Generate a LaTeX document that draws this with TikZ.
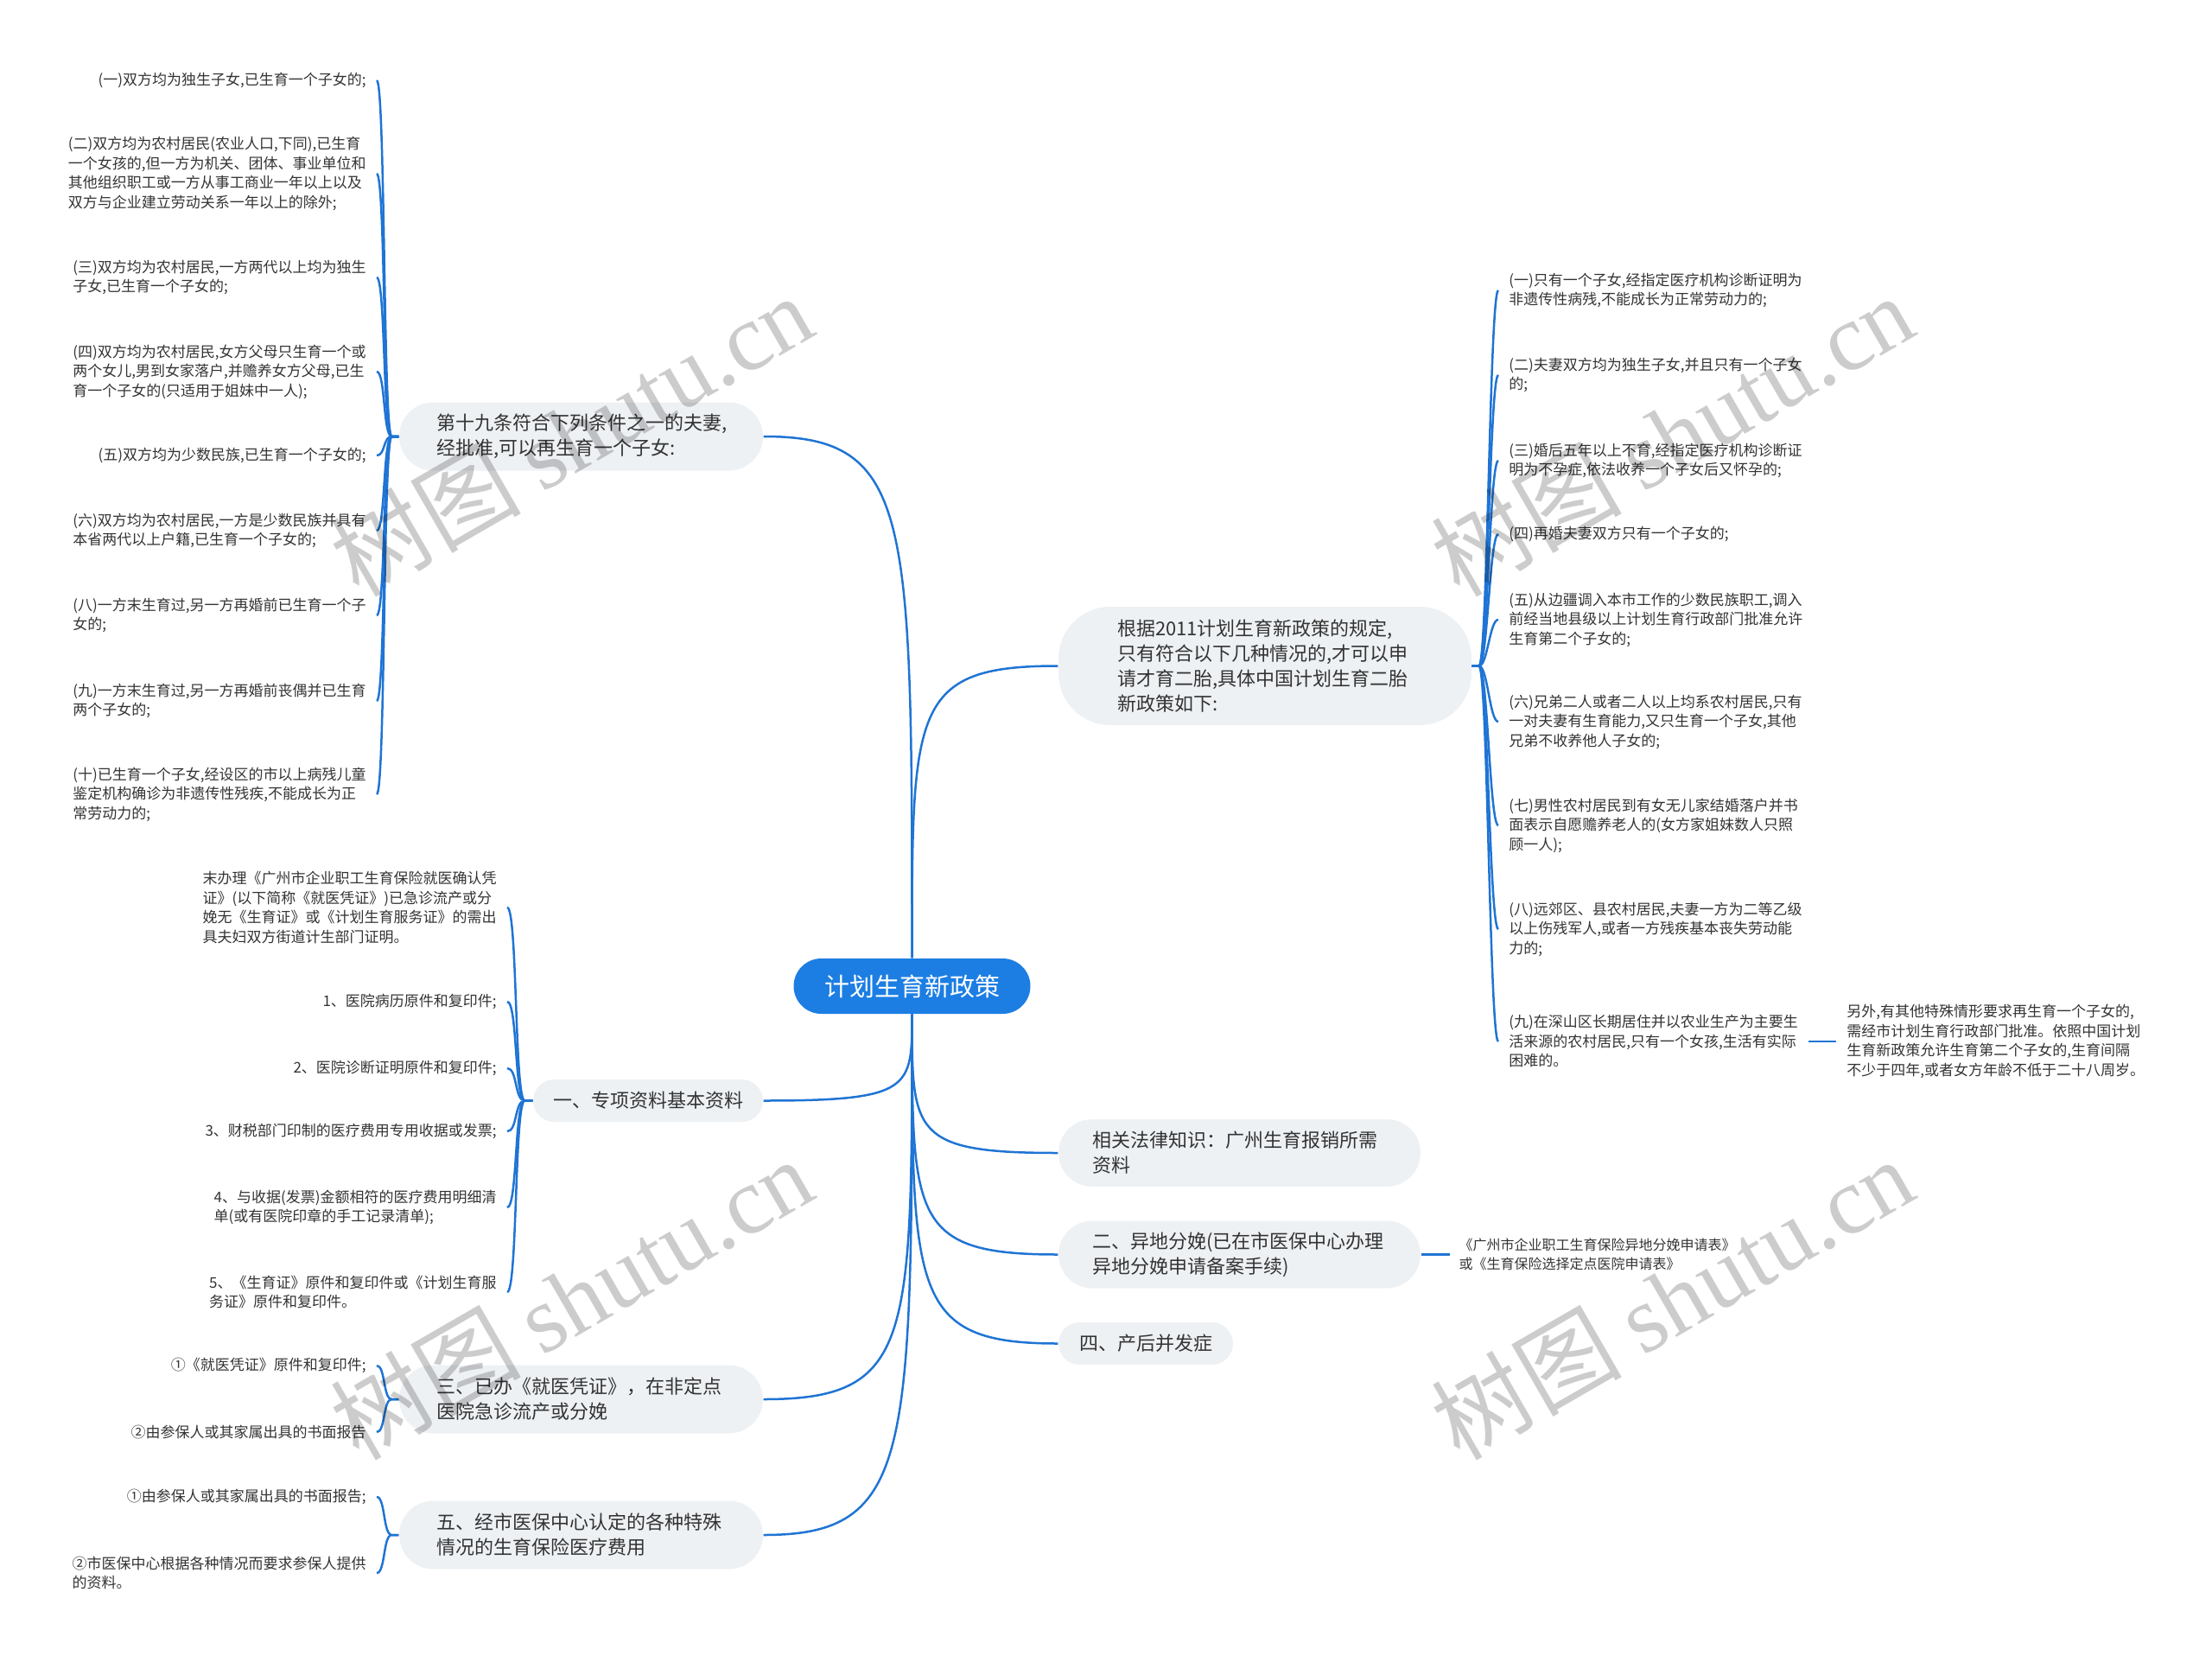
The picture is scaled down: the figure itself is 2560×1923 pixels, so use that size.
\documentclass[tikz,border=0pt]{standalone}
\usepackage{fontspec}
\setmainfont{Noto Sans CJK SC}
\newfontfamily\wmlatin{Liberation Serif}
\definecolor{linkblue}{HTML}{1F74D4}
\definecolor{rootblue}{HTML}{1C7EE3}
\definecolor{boxgray}{HTML}{EEF1F4}
\definecolor{txt}{HTML}{333333}
\tikzset{
  link/.style={draw=linkblue, line width=0.75pt},
  rootnode/.style={fill=rootblue, text=white, rounded corners=9.6pt, minimum width=82.2pt,
    minimum height=19.2pt, inner sep=0pt, font=\fontsize{8.7pt}{10pt}\selectfont},
  topic/.style={fill=boxgray, text=txt, inner ysep=0pt, font=\fontsize{6.6pt}{8.7pt}\selectfont},
  widetopic/.style={topic, align=left, text width=100.5pt, inner xsep=12.9pt, minimum height=23.7pt, rounded corners=11.8pt},
  smalltopic/.style={topic, align=center, minimum height=14.7pt, rounded corners=7.3pt},
  leaf/.style={text=txt, align=left, inner xsep=3.5pt, inner ysep=0pt, font=\fontsize{5.1pt}{6.75pt}\selectfont},
  lleaf/.style={leaf, anchor=east},
  rleaf/.style={leaf, anchor=west},
  wmark/.style={text=black, text opacity=0.2, rotate=30, font=\fontsize{33pt}{36pt}\selectfont}
}
\begin{document}
\begin{tikzpicture}[x=0.3pt, y=-0.3pt]
\useasboundingbox (0,0) rectangle (2560,1923);

% root
\node[rootnode] (root) at (1055.5,1141) {计划生育新政策};

% level-1 topics
\node[widetopic] (L1a) at (672.5,505) {第十九条符合下列条件之一的夫妻,\\经批准,可以再生育一个子女:};
\node[topic, align=left, text width=102.6pt, inner xsep=20.4pt, minimum height=41.1pt, rounded corners=18pt] (L1b) at (1464,770.5)
  {根据2011计划生育新政策的规定,\\只有符合以下几种情况的,才可以申\\请才育二胎,具体中国计划生育二胎\\新政策如下:};
\node[smalltopic, text width=67.8pt, inner xsep=6pt] (L1c) at (750,1273.5) {一、专项资料基本资料};
\node[topic, align=left, text width=102.3pt, inner xsep=11.7pt, minimum height=23.4pt, rounded corners=11.7pt] (L1d) at (1434.5,1334)
  {相关法律知识：广州生育报销所需\\资料};
\node[topic, align=left, text width=102.3pt, inner xsep=11.7pt, minimum height=23.4pt, rounded corners=11.7pt] (L1e) at (1434.5,1451.5)
  {二、异地分娩(已在市医保中心办理\\异地分娩申请备案手续)};
\node[smalltopic, text width=48pt, inner xsep=6.3pt] (L1f) at (1326,1554.5) {四、产后并发症};
\node[widetopic] (L1g) at (672.5,1619) {三、已办《就医凭证》，在非定点\\医院急诊流产或分娩};
\node[widetopic] (L1h) at (672.5,1776) {五、经市医保中心认定的各种特殊\\情况的生育保险医疗费用};

% root connectors
\draw[link] (root.north) .. controls +(0,-514) and +(172,0) .. (L1a.east);
\draw[link] (root.north) .. controls +(0,-289) and +(-170,0) .. (L1b.west);
\draw[link] (root.south) .. controls +(0,86) and +(172,0) .. (L1c.east);
\draw[link] (root.south) .. controls +(0,137) and +(-170,0) .. (L1d.west);
\draw[link] (root.south) .. controls +(0,237) and +(-170,0) .. (L1e.west);
\draw[link] (root.south) .. controls +(0,324) and +(-170,0) .. (L1f.west);
\draw[link] (root.south) .. controls +(0,379) and +(172,0) .. (L1g.east);
\draw[link] (root.south) .. controls +(0,512) and +(172,0) .. (L1h.east);

% group A leaves
\node[lleaf] (la1) at (436,93) {(一)双方均为独生子女,已生育一个子女的;};
\node[lleaf] (la2) at (436,201) {(二)双方均为农村居民(农业人口,下同),已生育\\一个女孩的,但一方为机关、团体、事业单位和\\其他组织职工或一方从事工商业一年以上以及\\双方与企业建立劳动关系一年以上的除外;};
\node[lleaf] (la3) at (436,321) {(三)双方均为农村居民,一方两代以上均为独生\\子女,已生育一个子女的;};
\node[lleaf] (la4) at (436,430) {(四)双方均为农村居民,女方父母只生育一个或\\两个女儿,男到女家落户,并赡养女方父母,已生\\育一个子女的(只适用于姐妹中一人);};
\node[lleaf] (la5) at (436,527) {(五)双方均为少数民族,已生育一个子女的;};
\node[lleaf] (la6) at (436,614) {(六)双方均为农村居民,一方是少数民族并具有\\本省两代以上户籍,已生育一个子女的;};
\node[lleaf] (la7) at (436,712) {(八)一方末生育过,另一方再婚前已生育一个子\\女的;};
\node[lleaf] (la8) at (436,811) {(九)一方末生育过,另一方再婚前丧偶并已生育\\两个子女的;};
\node[lleaf] (la9) at (436,919) {(十)已生育一个子女,经设区的市以上病残儿童\\鉴定机构确诊为非遗传性残疾,不能成长为正\\常劳动力的;};
\foreach \c in {la1,la2,la3,la4,la5,la6,la7,la8,la9}
  \draw[link] (L1a.west) -- ++(-8,0) .. controls +(-10,0) and +(10,0) .. (\c.east);

% group B leaves
\node[lleaf] (lb1) at (587,1050) {末办理《广州市企业职工生育保险就医确认凭\\证》(以下简称《就医凭证》)已急诊流产或分\\娩无《生育证》或《计划生育服务证》的需出\\具夫妇双方街道计生部门证明。};
\node[lleaf] (lb2) at (587,1159) {1、医院病历原件和复印件;};
\node[lleaf] (lb3) at (587,1236) {2、医院诊断证明原件和复印件;};
\node[lleaf] (lb4) at (587,1309) {3、财税部门印制的医疗费用专用收据或发票;};
\node[lleaf] (lb5) at (587,1397) {4、与收据(发票)金额相符的医疗费用明细清\\单(或有医院印章的手工记录清单);};
\node[lleaf] (lb6) at (587,1495) {5、《生育证》原件和复印件或《计划生育服\\务证》原件和复印件。};
\foreach \c in {lb1,lb2,lb3,lb4,lb5,lb6}
  \draw[link] (L1c.west) -- ++(-9,0) .. controls +(-12,0) and +(12,0) .. (\c.east);

% group C leaves
\node[lleaf] (lc1) at (436,1580) {①《就医凭证》原件和复印件;};
\node[lleaf] (lc2) at (436,1657) {②由参保人或其家属出具的书面报告};
\foreach \c in {lc1,lc2}
  \draw[link] (L1g.west) -- ++(-8,0) .. controls +(-10,0) and +(10,0) .. (\c.east);

% group D leaves
\node[lleaf] (ld1) at (436,1732) {①由参保人或其家属出具的书面报告;};
\node[lleaf] (ld2) at (436,1820) {②市医保中心根据各种情况而要求参保人提供\\的资料。};
\foreach \c in {ld1,ld2}
  \draw[link] (L1h.west) -- ++(-8,0) .. controls +(-10,0) and +(10,0) .. (\c.east);

% right group leaves
\node[rleaf] (ra1) at (1734,336) {(一)只有一个子女,经指定医疗机构诊断证明为\\非遗传性病残,不能成长为正常劳动力的;};
\node[rleaf] (ra2) at (1734,434) {(二)夫妻双方均为独生子女,并且只有一个子女\\的;};
\node[rleaf] (ra3) at (1734,533) {(三)婚后五年以上不育,经指定医疗机构诊断证\\明为不孕症,依法收养一个子女后又怀孕的;};
\node[rleaf] (ra4) at (1734,618) {(四)再婚夫妻双方只有一个子女的;};
\node[rleaf] (ra5) at (1734,717) {(五)从边疆调入本市工作的少数民族职工,调入\\前经当地县级以上计划生育行政部门批准允许\\生育第二个子女的;};
\node[rleaf] (ra6) at (1734,835) {(六)兄弟二人或者二人以上均系农村居民,只有\\一对夫妻有生育能力,又只生育一个子女,其他\\兄弟不收养他人子女的;};
\node[rleaf] (ra7) at (1734,955) {(七)男性农村居民到有女无儿家结婚落户并书\\面表示自愿赡养老人的(女方家姐妹数人只照\\顾一人);};
\node[rleaf] (ra8) at (1734,1075) {(八)远郊区、县农村居民,夫妻一方为二等乙级\\以上伤残军人,或者一方残疾基本丧失劳动能\\力的;};
\node[rleaf] (ra9) at (1734,1205) {(九)在深山区长期居住并以农业生产为主要生\\活来源的农村居民,只有一个女孩,生活有实际\\困难的。};
\foreach \c in {ra1,ra2,ra3,ra4,ra5,ra6,ra7,ra8,ra9}
  \draw[link] (L1b.east) -- ++(8,0) .. controls +(10,0) and +(-10,0) .. (\c.west);

\node[rleaf] (rb) at (2125,1205) {另外,有其他特殊情形要求再生育一个子女的,\\需经市计划生育行政部门批准。依照中国计划\\生育新政策允许生育第二个子女的,生育间隔\\不少于四年,或者女方年龄不低于二十八周岁。};
\draw[link] (ra9.east) -- (rb.west);

\node[rleaf, inner xsep=3pt, font=\fontsize{4.8pt}{6.6pt}\selectfont] (re) at (1678,1451.5) {《广州市企业职工生育保险异地分娩申请表》\\或《生育保险选择定点医院申请表》};
\draw[link] (L1e.east) -- (re.west);

% watermarks
\node[wmark] (w1) at (661,503) {树图 {\wmlatin shutu.cn}};
\node[wmark] (w2) at (1935,503) {树图 {\wmlatin shutu.cn}};
\node[wmark] (w3) at (661,1502) {树图 {\wmlatin shutu.cn}};
\node[wmark] (w4) at (1935,1502) {树图 {\wmlatin shutu.cn}};
\end{tikzpicture}
\end{document}
